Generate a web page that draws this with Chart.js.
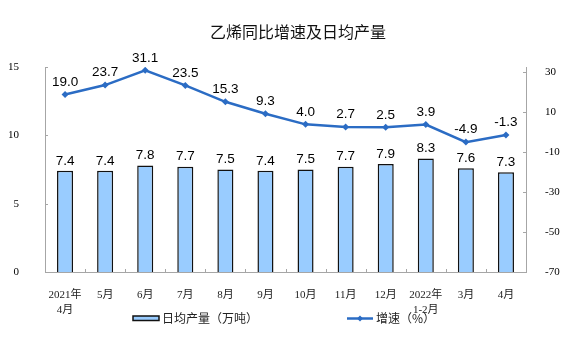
<!DOCTYPE html>
<html>
<head>
<meta charset="utf-8">
<script src="https://cdn.jsdelivr.net/npm/chart.js@4.4.1/dist/chart.umd.min.js"></script>
<style>
html,body{margin:0;padding:0;background:#fff;}
#wrap{width:575px;height:357px;}
</style>
</head>
<body>
<div id="wrap"><canvas id="c" width="575" height="357"></canvas></div>
<script>
const categories = [["2021年","4月"],"5月","6月","7月","8月","9月","10月","11月","12月",["2022年","1-2月"],"3月","4月"];
const dailyOutput = [7.4,7.4,7.8,7.7,7.5,7.4,7.5,7.7,7.9,8.3,7.6,7.3];
const growthRate = [19.0,23.7,31.1,23.5,15.3,9.3,4.0,2.7,2.5,3.9,-4.9,-1.3];
const leftTicks = [0,5,10,15];
const rightTicks = [-70,-50,-30,-10,10,30];
const titleText = "乙烯同比增速及日均产量";
const barLegend = "日均产量（万吨）";
const lineLegend = "增速（%）";

const BAR_FILL = '#99CCFF';
const LINE_COLOR = '#2B6CC4';
const AXIS_COLOR = '#A6A6A6';
const CJK = '"Noto Sans CJK SC","Noto Sans",sans-serif';
const TICKFONT = '"Liberation Serif","Noto Sans CJK SC",serif';

const decor = {
  id: 'decor',
  afterDatasetsDraw(chart) {
    const ctx = chart.ctx;
    const ca = chart.chartArea;
    ctx.save();
    // inward tick marks
    ctx.strokeStyle = AXIS_COLOR;
    ctx.lineWidth = 1;
    const n = categories.length;
    const w = (ca.right - ca.left) / n;
    for (let i = 1; i < n; i++) {
      const x = Math.round(ca.left + i * w) + 0.5;
      ctx.beginPath(); ctx.moveTo(x, ca.bottom); ctx.lineTo(x, ca.bottom - 3); ctx.stroke();
    }
    const ys = chart.scales.y;
    leftTicks.forEach(v => {
      const y = Math.round(ys.getPixelForValue(v)) + 0.5;
      ctx.beginPath(); ctx.moveTo(ca.left, y); ctx.lineTo(ca.left + 3, y); ctx.stroke();
    });
    const y1 = chart.scales.y1;
    rightTicks.forEach(v => {
      const y = Math.round(y1.getPixelForValue(v)) + 0.5;
      ctx.beginPath(); ctx.moveTo(ca.right, y); ctx.lineTo(ca.right - 3, y); ctx.stroke();
    });

    // data labels
    ctx.fillStyle = '#000';
    ctx.font = '13.5px "Liberation Sans", Arial, sans-serif';
    ctx.textAlign = 'center';
    ctx.textBaseline = 'middle';
    const barMeta = chart.getDatasetMeta(0);
    barMeta.data.forEach((el, i) => {
      ctx.fillText(dailyOutput[i].toFixed(1), el.x, el.y - 10);
    });
    const lineMeta = chart.getDatasetMeta(1);
    lineMeta.data.forEach((el, i) => {
      ctx.fillText(growthRate[i].toFixed(1), el.x, el.y - 12.5);
    });

    // title
    ctx.font = '16px ' + CJK;
    ctx.fillStyle = '#111';
    ctx.fillText(titleText, 298, 32);

    // legend
    ctx.fillStyle = BAR_FILL;
    ctx.fillRect(133, 316, 26, 4.5);
    ctx.strokeStyle = '#111';
    ctx.lineWidth = 1.5;
    ctx.strokeRect(133, 316, 26, 4.5);
    ctx.font = '12px ' + CJK;
    ctx.fillStyle = '#222';
    ctx.textAlign = 'left';
    ctx.fillText(barLegend, 162, 318.5);

    ctx.strokeStyle = LINE_COLOR;
    ctx.lineWidth = 2.5;
    ctx.beginPath(); ctx.moveTo(347, 318.5); ctx.lineTo(373, 318.5); ctx.stroke();
    ctx.fillStyle = LINE_COLOR;
    ctx.beginPath();
    ctx.moveTo(360, 315.5); ctx.lineTo(363, 318.5); ctx.lineTo(360, 321.5); ctx.lineTo(357, 318.5); ctx.closePath(); ctx.fill();
    ctx.fillStyle = '#222';
    ctx.fillText(lineLegend, 376, 318.5);
    ctx.restore();
  }
};

new Chart(document.getElementById('c'), {
  type: 'bar',
  data: {
    labels: categories,
    datasets: [
      {
        type: 'bar',
        label: barLegend,
        data: dailyOutput,
        yAxisID: 'y',
        backgroundColor: BAR_FILL,
        borderColor: '#111',
        borderWidth: 1.5,
        borderSkipped: 'bottom',
        barPercentage: 0.4,
        categoryPercentage: 1.0,
        order: 2
      },
      {
        type: 'line',
        label: lineLegend,
        data: growthRate,
        yAxisID: 'y1',
        borderColor: LINE_COLOR,
        backgroundColor: LINE_COLOR,
        borderWidth: 2.5,
        pointStyle: 'rectRot',
        pointRadius: 3.5,
        pointBorderWidth: 0,
        tension: 0,
        order: 1
      }
    ]
  },
  options: {
    responsive: false,
    devicePixelRatio: 1,
    animation: false,
    layout: { padding: { top: 67, left: 0, right: 0, bottom: 0 } },
    plugins: { legend: { display: false }, title: { display: false }, tooltip: { enabled: false } },
    scales: {
      x: {
        grid: { display: false },
        border: { display: true, color: AXIS_COLOR, width: 1 },
        ticks: {
          color: '#222',
          font: { family: TICKFONT, size: 11, lineHeight: 1.36 },
          padding: 7.5,
          maxRotation: 0,
          autoSkip: false
        },
        afterFit(s) { s.height = 85; }
      },
      y: {
        position: 'left',
        min: 0, max: 15,
        grid: { display: false },
        border: { display: true, color: AXIS_COLOR, width: 1 },
        ticks: {
          color: '#000',
          font: { family: TICKFONT, size: 11 },
          padding: 18
        },
        afterBuildTicks(s) { s.ticks = leftTicks.map(v => ({ value: v })); },
        afterFit(s) { s.width = 45; }
      },
      y1: {
        position: 'right',
        min: -70, max: 32.75,
        grid: { display: false },
        border: { display: true, color: AXIS_COLOR, width: 1 },
        ticks: {
          color: '#000',
          font: { family: TICKFONT, size: 11 },
          padding: 11
        },
        afterBuildTicks(s) { s.ticks = rightTicks.map(v => ({ value: v })); },
        afterFit(s) { s.width = 49; }
      }
    }
  },
  plugins: [decor]
});
</script>
</body>
</html>
